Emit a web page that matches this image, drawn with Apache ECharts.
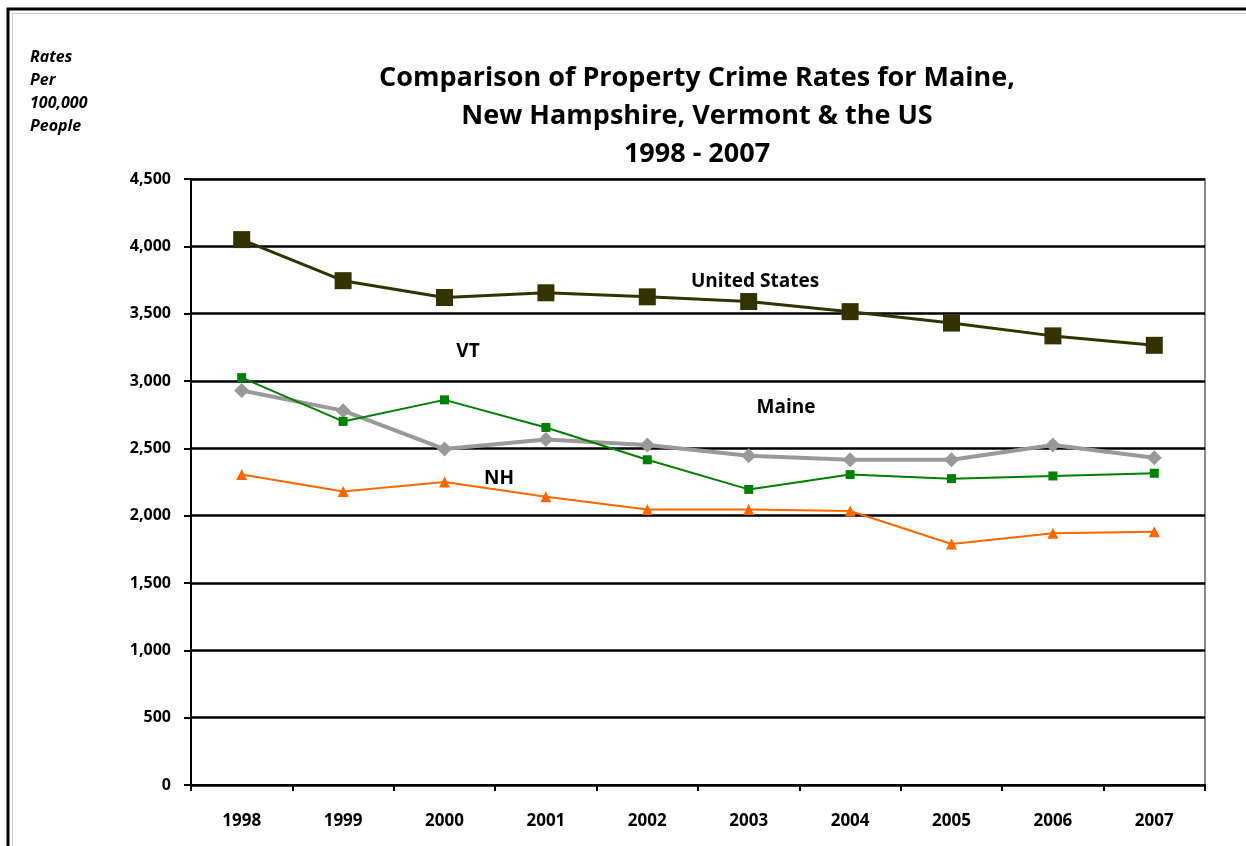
<!DOCTYPE html>
<html>
<head>
<meta charset="utf-8">
<script src="https://cdn.jsdelivr.net/npm/echarts@6/dist/echarts.min.js"></script>
<style>
  html, body { margin: 0; padding: 0; background: #fff; }
  #chart { width: 1246px; height: 846px; }
</style>
</head>
<body>
<div id="chart"></div>
<script>
const years = ["1998", "1999", "2000", "2001", "2002", "2003", "2004", "2005", "2006", "2007"];
const unitedStates = [4050, 3745, 3620, 3655, 3625, 3590, 3515, 3430, 3335, 3265];
const maine = [2930, 2780, 2495, 2565, 2525, 2445, 2415, 2415, 2525, 2430];
const vermont = [3025, 2700, 2860, 2655, 2415, 2195, 2305, 2275, 2295, 2315];
const newHampshire = [2305, 2180, 2250, 2140, 2045, 2045, 2035, 1790, 1870, 1880];

const font = "'Open Sans', 'Noto Sans', sans-serif";
const chart = echarts.init(document.getElementById("chart"));

const options = {
  backgroundColor: "#fff",
  animation: false,
  title: {
    text: "Comparison of Property Crime Rates for Maine,\nNew Hampshire, Vermont & the US\n1998 - 2007",
    left: 692,
    top: 54,
    textAlign: "center",
    textStyle: {
      fontFamily: font,
      fontWeight: "bold",
      fontSize: 27,
      lineHeight: 38,
      color: "#000",
    },
  },
  grid: {
    left: 191,
    right: 41,
    top: 179,
    bottom: 61,
    show: true,
    borderColor: "#888",
    borderWidth: 2,
  },
  xAxis: {
    type: "category",
    data: years,
    boundaryGap: true,
    axisLine: { lineStyle: { color: "#000", width: 2 } },
    axisTick: { show: true, length: 6, lineStyle: { color: "#000", width: 2 } },
    axisLabel: {
      margin: 28,
      fontFamily: font,
      fontWeight: "bold",
      fontSize: 17,
      color: "#000",
    },
  },
  yAxis: {
    type: "value",
    min: 0,
    max: 4500,
    interval: 500,
    axisLine: { show: true, lineStyle: { color: "#000", width: 2 } },
    axisTick: { show: true, length: 7, lineStyle: { color: "#000", width: 2 } },
    splitLine: { lineStyle: { color: "#000", width: 2.5 } },
    axisLabel: {
      margin: 20,
      fontFamily: font,
      fontWeight: "bold",
      fontSize: 16,
      color: "#000",
      formatter: (v) => v.toLocaleString("en-US"),
    },
  },
  graphic: [
    {
      type: "rect",
      shape: { x: 8, y: 9, width: 1300, height: 900 },
      style: { fill: "none", stroke: "#000", lineWidth: 3 },
    },
    {
      type: "rect",
      shape: { x: 12.5, y: 13.5, width: 1300, height: 900 },
      style: { fill: "none", stroke: "#999", lineWidth: 1, lineDash: [1, 1] },
    },
    {
      type: "text",
      left: 30,
      top: 46,
      style: {
        text: "Rates\nPer\n100,000\nPeople",
        font: "italic bold 16px " + font,
        lineHeight: 23,
        fill: "#000",
      },
    },
    {
      type: "text",
      x: 755,
      y: 282,
      style: { text: "United States", font: "bold 19px " + font, fill: "#000", align: "center", verticalAlign: "middle" },
    },
    {
      type: "text",
      x: 468,
      y: 352,
      style: { text: "VT", font: "bold 19px " + font, fill: "#000", align: "center", verticalAlign: "middle" },
    },
    {
      type: "text",
      x: 786,
      y: 408,
      style: { text: "Maine", font: "bold 19px " + font, fill: "#000", align: "center", verticalAlign: "middle" },
    },
    {
      type: "text",
      x: 499,
      y: 479,
      style: { text: "NH", font: "bold 19px " + font, fill: "#000", align: "center", verticalAlign: "middle" },
    },
  ],
  series: [
    {
      name: "NH",
      type: "line",
      data: newHampshire,
      symbol: "triangle",
      symbolSize: 11,
      itemStyle: { color: "#FF6600" },
      lineStyle: { color: "#FF6600", width: 2 },
      z: 2,
    },
    {
      name: "Maine",
      type: "line",
      data: maine,
      symbol: "diamond",
      symbolSize: 15,
      itemStyle: { color: "#999999" },
      lineStyle: { color: "#999999", width: 4 },
      z: 3,
    },
    {
      name: "VT",
      type: "line",
      data: vermont,
      symbol: "rect",
      symbolSize: 9,
      itemStyle: { color: "#008000" },
      lineStyle: { color: "#008000", width: 2 },
      z: 4,
    },
    {
      name: "United States",
      type: "line",
      data: unitedStates,
      symbol: "rect",
      symbolSize: 17,
      itemStyle: { color: "#333300" },
      lineStyle: { color: "#333300", width: 3 },
      z: 5,
    },
  ],
};

chart.setOption(options);
</script>
</body>
</html>
